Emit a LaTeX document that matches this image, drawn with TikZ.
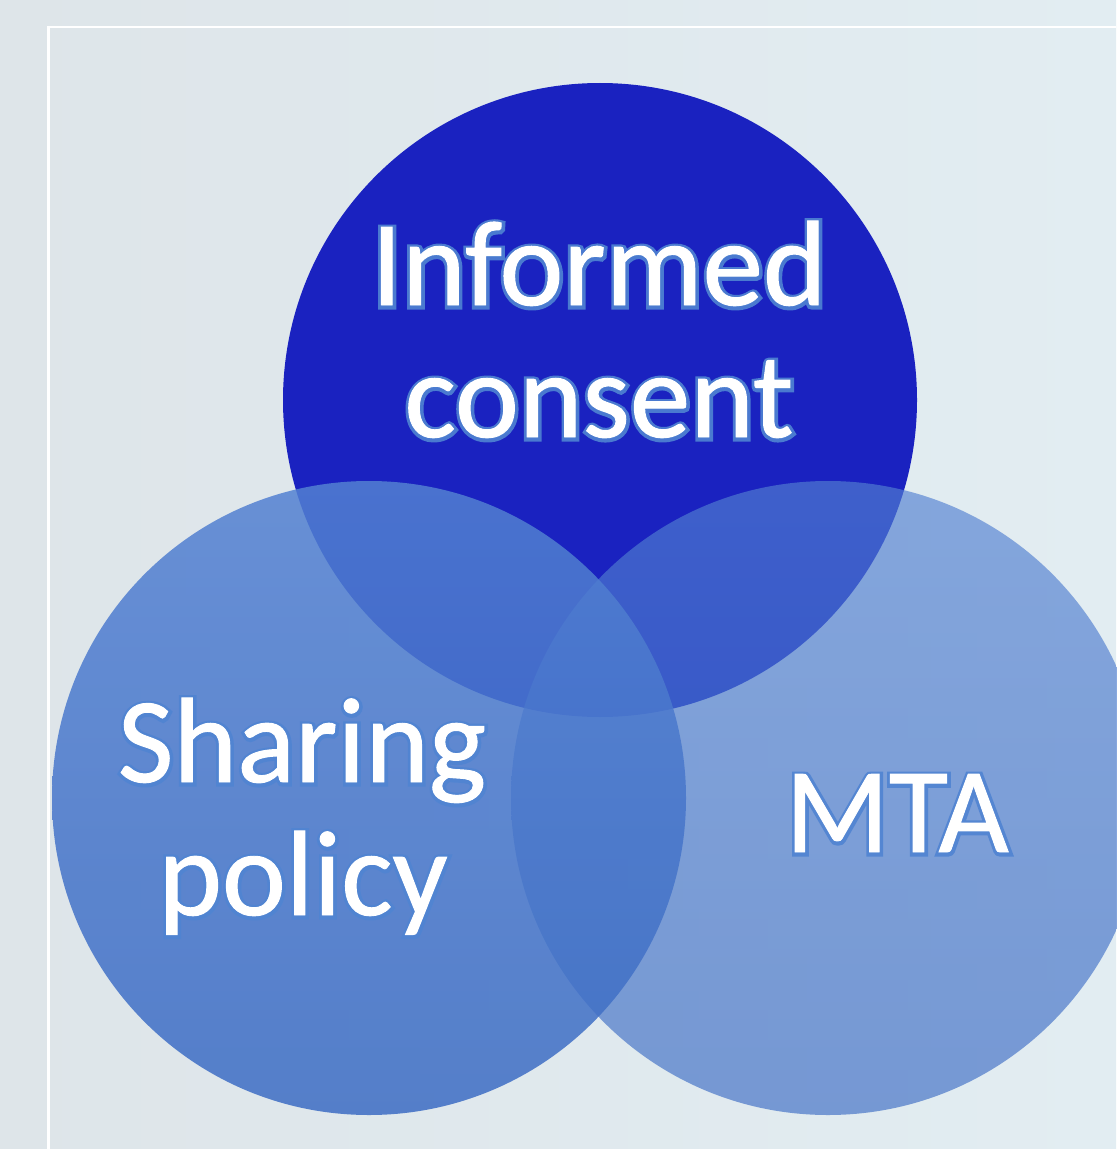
\documentclass[tikz,border=0pt]{standalone}
\usepackage{fontspec}
\setmainfont{Carlito}
\usetikzlibrary{calc}

\definecolor{pagebg}{RGB}{222,229,233}
\definecolor{pagebgright}{RGB}{226,237,242}
\definecolor{consentblue}{RGB}{26,34,192}
\definecolor{settop}{RGB}{83,129,210}
\definecolor{setbottom}{RGB}{60,108,196}
\definecolor{haloblue}{RGB}{80,132,210}

\tikzset{
  setlabel/.style={anchor=base, inner sep=0pt, text=white,
    font={\fontsize{69}{80}\selectfont\addfontfeature{FakeBold=0.8}}},
  setrim/.style={anchor=base, inner sep=0pt, text=haloblue, opacity=0.9,
    font={\fontsize{69}{80}\selectfont\addfontfeature{FakeBold=6}}},
}

% white word on a blue rim: name, base point, text
\newcommand{\vennlabel}[3]{%
  \node[setrim] at ($(#2)+(0.5,-1)$) {#3};
  \node[setlabel] (#1) at (#2) {#3};
}

\begin{document}
\begin{tikzpicture}[x=0.02cm, y=0.02cm]

  \useasboundingbox (0,0) rectangle (1116,-1149);
  \shade[left color=pagebg, right color=pagebgright] (0,0) rectangle (1116,-1149);
  \draw[white, line width=1.2pt] (48.5,-1149) -- (48.5,-27) -- (1116,-27);

  \coordinate (consent) at (600,-400);
  \coordinate (sharing) at (369,-798);
  \coordinate (mta) at (828,-798);

  \fill[consentblue] (consent) circle (317);
  \shade[top color=settop, bottom color=setbottom, fill opacity=0.65] (mta) circle (317);
  \shade[top color=settop, bottom color=setbottom, fill opacity=0.85] (sharing) circle (317);

  \vennlabel{informed}{599,-305}{Informed}
  \vennlabel{consentword}{599,-437}{consent}
  \vennlabel{sharingword}{302,-782}{Sharing}
  \vennlabel{policyword}{303,-915}{policy}
  \vennlabel{mtaword}{897,-852}{MTA}

\end{tikzpicture}
\end{document}
